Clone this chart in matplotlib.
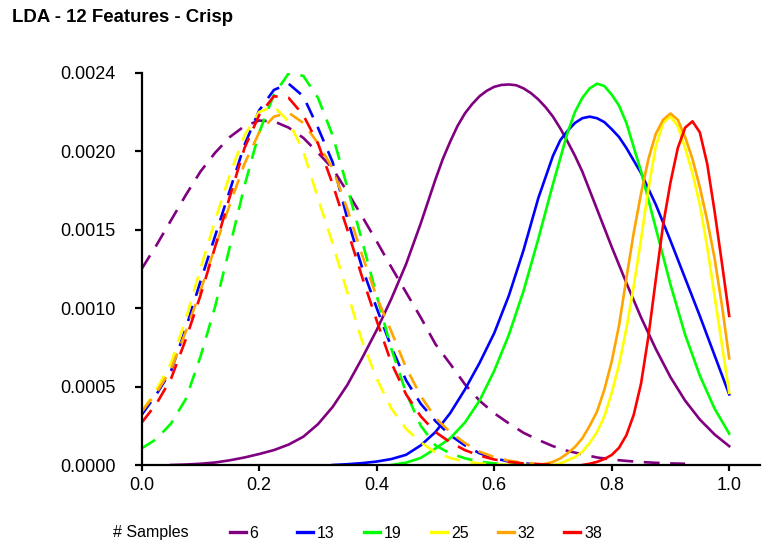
import matplotlib
matplotlib.use("Agg")
import matplotlib.pyplot as plt
import numpy as np

plt.rcParams["font.family"] = ["Liberation Sans", "DejaVu Sans"]

# === DATA === (densities in units of 1e-4)
UNIT = 1e-4
samples = [6, 13, 19, 25, 32, 38]
colors = ["#800080", "#0000ff", "#00ff00", "#ffff00", "#ffa500", "#ff0000"]

# dashed curves (left group)
x_dash = [0.0, 0.025, 0.05, 0.075, 0.1, 0.125, 0.15, 0.175, 0.2, 0.225, 0.25, 0.275,
          0.3, 0.325, 0.35, 0.375, 0.4, 0.425, 0.45, 0.475, 0.5, 0.525, 0.55, 0.575,
          0.6, 0.625, 0.65, 0.675, 0.7]
x_dash_6 = [0.0, 0.025, 0.05, 0.075, 0.1, 0.125, 0.15, 0.175, 0.2, 0.225, 0.25, 0.275,
            0.3, 0.325, 0.35, 0.375, 0.4, 0.425, 0.45, 0.475, 0.5, 0.525, 0.55, 0.575,
            0.6, 0.625, 0.65, 0.675, 0.7, 0.725, 0.75, 0.775, 0.8, 0.825, 0.85, 0.875,
            0.9, 0.925]
dash_6 = [12.5, 14.0, 15.6, 17.2, 18.7, 19.9, 20.9, 21.6, 21.95, 21.9, 21.5, 20.85,
          19.9, 18.9, 17.4, 15.85, 14.25, 12.6, 11.0, 9.4, 7.7, 6.45, 5.15, 4.1,
          3.3, 2.65, 2.05, 1.6, 1.2, 0.9, 0.68, 0.48, 0.35, 0.26, 0.19, 0.14, 0.1, 0.08]
dash_13 = [3.2, 4.5, 6.0, 8.7, 11.7, 14.6, 17.5, 20.4, 22.6, 23.9, 24.3, 23.5,
           21.5, 19.3, 15.7, 12.6, 10.0, 7.5, 5.4, 3.9, 2.8, 1.9, 1.25, 0.75,
           0.43, 0.22, 0.1, 0.04, 0.01]
dash_19 = [1.06, 1.65, 2.65, 4.2, 6.9, 10.1, 13.9, 17.8, 21.2, 23.6, 24.95, 24.8,
           23.4, 21.0, 17.7, 14.3, 10.8, 7.4, 4.6, 2.5, 1.25, 0.74, 0.43, 0.21,
           0.1, 0.05, 0.02, 0.01, 0.0]
dash_25 = [3.4, 4.8, 6.5, 9.3, 12.5, 15.6, 18.5, 21.0, 22.5, 22.85, 21.9, 20.0,
           17.0, 14.1, 11.0, 7.9, 5.5, 3.6, 2.3, 1.45, 0.8, 0.45, 0.22, 0.1,
           0.04, 0.02, 0.01, 0.0, 0.0]
dash_32 = [3.4, 4.6, 6.1, 8.5, 11.1, 13.9, 16.6, 19.2, 21.2, 22.2, 22.45, 21.8,
           20.5, 18.9, 16.3, 13.4, 10.7, 8.5, 6.2, 4.4, 3.0, 2.1, 1.4, 0.85,
           0.5, 0.27, 0.14, 0.06, 0.02]
dash_38 = [2.7, 3.9, 5.5, 8.0, 10.8, 13.9, 17.1, 20.2, 22.3, 23.5, 23.4, 22.3,
           20.5, 17.9, 15.0, 12.0, 9.2, 6.5, 4.5, 3.1, 2.1, 1.45, 0.95, 0.6,
           0.35, 0.2, 0.1, 0.05, 0.02]

# solid curves (right group)
x_solid_6 = [0.05, 0.075, 0.1, 0.125, 0.15, 0.175, 0.2, 0.225, 0.25, 0.275, 0.3, 0.325,
             0.35, 0.375, 0.4, 0.425, 0.45, 0.475, 0.5, 0.5125, 0.525, 0.5375, 0.55,
             0.5625, 0.575, 0.5875, 0.6, 0.6125, 0.625, 0.6375, 0.65, 0.6625, 0.675,
             0.6875, 0.7, 0.7125, 0.725, 0.7375, 0.75, 0.775, 0.8, 0.825, 0.85, 0.875,
             0.9, 0.925, 0.95, 0.975, 1.0]
solid_6 = [0.0, 0.03, 0.08, 0.16, 0.3, 0.48, 0.7, 0.95, 1.3, 1.8, 2.6, 3.7,
           5.1, 6.8, 8.6, 10.6, 12.8, 15.4, 18.2, 19.5, 20.6, 21.6, 22.4,
           23.0, 23.5, 23.85, 24.1, 24.22, 24.25, 24.2, 24.0, 23.7, 23.3,
           22.8, 22.2, 21.45, 20.6, 19.7, 18.7, 16.3, 13.9, 11.6, 9.4, 7.4,
           5.6, 4.1, 2.9, 1.95, 1.2]
x_solid_13 = [0.325, 0.35, 0.375, 0.4, 0.425, 0.45, 0.475, 0.5, 0.525, 0.55, 0.575, 0.6,
              0.625, 0.65, 0.675, 0.7, 0.7125, 0.725, 0.7375, 0.75, 0.7625, 0.775,
              0.7875, 0.8, 0.8125, 0.825, 0.85, 0.875, 0.9, 0.925, 0.95, 0.975, 1.0]
solid_13 = [0.0, 0.05, 0.12, 0.22, 0.38, 0.65, 1.25, 2.1, 3.3, 4.8, 6.5, 8.4,
            10.8, 13.7, 17.0, 19.7, 20.7, 21.3, 21.8, 22.1, 22.2, 22.1,
            21.85, 21.4, 20.9, 20.2, 18.6, 16.6, 14.3, 11.9, 9.5, 7.0, 4.5]
x_solid_19 = [0.425, 0.45, 0.475, 0.5, 0.525, 0.55, 0.575, 0.6, 0.625, 0.65, 0.675, 0.7,
              0.725, 0.7375, 0.75, 0.7625, 0.775, 0.7875, 0.8, 0.8125, 0.825, 0.85,
              0.875, 0.9, 0.925, 0.95, 0.975, 1.0]
solid_19 = [0.0, 0.15, 0.45, 1.05, 1.7, 2.7, 4.1, 6.0, 8.3, 11.1, 14.4, 17.9,
            21.2, 22.5, 23.4, 24.0, 24.3, 24.15, 23.6, 22.9, 21.8, 18.7,
            15.1, 11.5, 8.3, 5.7, 3.6, 2.0]
x_solid_25 = [0.7, 0.7125, 0.725, 0.7375, 0.75, 0.7625, 0.775, 0.7875, 0.8, 0.8125,
              0.825, 0.8375, 0.85, 0.8625, 0.875, 0.8875, 0.9, 0.9125, 0.925, 0.9375,
              0.95, 0.9625, 0.975, 0.9875, 1.0]
solid_25 = [0.0, 0.1, 0.3, 0.5, 0.85, 1.4, 2.1, 3.1, 4.6, 6.4,
            8.7, 11.4, 14.4, 17.6, 20.3, 21.8, 22.2, 21.6, 20.2, 18.6,
            16.6, 13.9, 10.8, 7.7, 4.6]
x_solid_32 = [0.675, 0.6875, 0.7, 0.7125, 0.725, 0.7375, 0.75, 0.7625, 0.775, 0.7875,
              0.8, 0.8125, 0.825, 0.8375, 0.85, 0.8625, 0.875, 0.8875, 0.9, 0.9125,
              0.925, 0.9375, 0.95, 0.9625, 0.975, 0.9875, 1.0]
solid_32 = [0.0, 0.08, 0.2, 0.42, 0.75, 1.15, 1.7, 2.5, 3.4, 4.8,
            6.6, 8.9, 11.9, 14.8, 17.3, 19.5, 21.1, 22.0, 22.4, 22.0,
            20.9, 19.5, 17.7, 15.6, 13.2, 10.2, 6.8]
x_solid_38 = [0.75, 0.7625, 0.775, 0.7875, 0.8, 0.8125, 0.825, 0.8375, 0.85, 0.8625,
              0.875, 0.8875, 0.9, 0.9125, 0.925, 0.9375, 0.95, 0.9625, 0.975, 0.9875, 1.0]
solid_38 = [0.0, 0.08, 0.2, 0.38, 0.64, 1.1, 1.9, 3.2, 5.2, 8.2,
            11.8, 15.3, 18.0, 20.2, 21.5, 21.9, 21.2, 19.2, 16.2, 12.9, 9.5]

dashed = [(x_dash_6, dash_6), (x_dash, dash_13), (x_dash, dash_19),
          (x_dash, dash_25), (x_dash, dash_32), (x_dash, dash_38)]
solid = [(x_solid_6, solid_6), (x_solid_13, solid_13), (x_solid_19, solid_19),
         (x_solid_25, solid_25), (x_solid_32, solid_32), (x_solid_38, solid_38)]

y_ticks = [0.0, 0.0005, 0.0010, 0.0015, 0.0020, 0.0025]
y_labels = ["0.0000", "0.0005", "0.0010", "0.0015", "0.0020", "0.0024"]
x_ticks = [0.0, 0.2, 0.4, 0.6, 0.8, 1.0]
x_labels = ["0.0", "0.2", "0.4", "0.6", "0.8", "1.0"]

# === PLOT ===
W, H = 762, 547
fig = plt.figure(figsize=(W / 100, H / 100), dpi=100)
ax = fig.add_axes([141.7 / W, 1 - 465 / H, (760 - 141.7) / W, (465 - 72.7) / H])

handles = []
for n, c, (xd, yd), (xs, ys) in zip(samples, colors, dashed, solid):
    ax.plot(xd, np.array(yd) * UNIT, color=c, lw=1.9, dashes=(6, 4))
    # single-digit label padded with a figure space so the columns stay even
    lab = str(n) if n >= 10 else str(n) + "\u2007"
    h, = ax.plot(xs, np.array(ys) * UNIT, color=c, lw=1.9, label=lab,
                 solid_joinstyle="round")
    handles.append(h)

ax.set_xlim(0, (760 - 141.7) / 587.5)
ax.set_ylim(0, 0.0025)
ax.set_xticks(x_ticks)
ax.set_xticklabels(x_labels)
ax.set_yticks(y_ticks)
ax.set_yticklabels(y_labels)
for s in ["top", "right"]:
    ax.spines[s].set_visible(False)
for s in ["left", "bottom"]:
    ax.spines[s].set_linewidth(1.6)
ax.tick_params(axis="both", direction="out", width=1.6, labelsize=13)
ax.tick_params(axis="y", length=5, pad=14)
ax.tick_params(axis="x", length=4, pad=5)

fig.text(12 / W, 1 - 18 / H, "LDA - 12 Features - Crisp", fontsize=13.4,
         fontweight="bold", va="center", ha="left")

fig.text(113 / W, 1 - 533 / H, "# Samples", fontsize=11.5, va="center", ha="left")
leg = fig.legend(handles=handles, loc="center left", bbox_to_anchor=(230 / W, 1 - 533 / H),
                 ncol=6, frameon=False, fontsize=11.5, handlelength=1.0,
                 handletextpad=0.25, columnspacing=1.83, borderpad=0, borderaxespad=0)
for line in leg.get_lines():
    line.set_linewidth(2.4)

fig.savefig("out.png", dpi=100)
